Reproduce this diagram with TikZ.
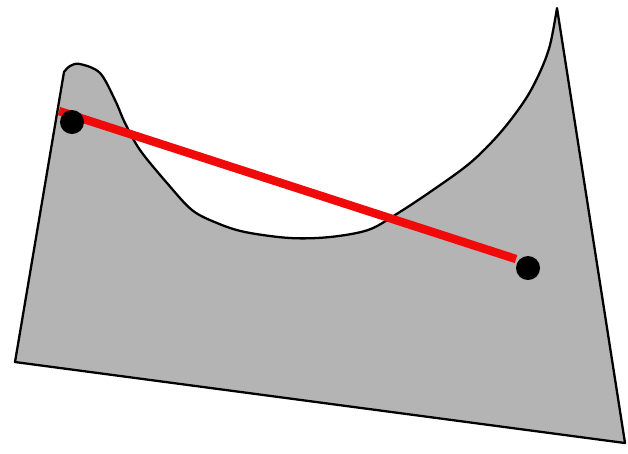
\documentclass[tikz,border=0pt]{standalone}
\usepackage{xcolor}
\usepackage{tikz}
\definecolor{bolgeGri}{RGB}{180,180,180}
\definecolor{cizgiKirmizi}{RGB}{240,10,10}

\begin{document}
\begin{tikzpicture}[x=0.01cm, y=-0.01cm,
  bolge/.style={draw=black,fill=bolgeGri,line width=0.65pt,line join=round},
  nokta/.style={circle,fill=black,inner sep=0pt,minimum size=0.24cm},
  kesit/.style={cizgiKirmizi,line width=2.4pt}]
\useasboundingbox (0,0) rectangle (628,453);
% non-convex region
\draw[bolge] (15,362) -- (64,72)
  -- plot[smooth,tension=0.55] coordinates {(64,72) (70,66) (80,64) (100,73) (115,100)
    (125,123) (140,150) (167,183) (192,210) (217,223) (245,232) (290,238)
    (330,237) (368,230) (395,215) (430,192) (470,163) (500,133) (525,100)
    (540,72) (550,45) (557,8)}
  -- (625,443) -- cycle;
% segment between the two points
\coordinate (u1) at (59,111);
\coordinate (u2) at (516,259);
\draw[kesit] (u1) -- (u2);
\node[nokta] (p) at (72,122) {};
\node[nokta] (q) at (528,268) {};
\end{tikzpicture}
\end{document}
